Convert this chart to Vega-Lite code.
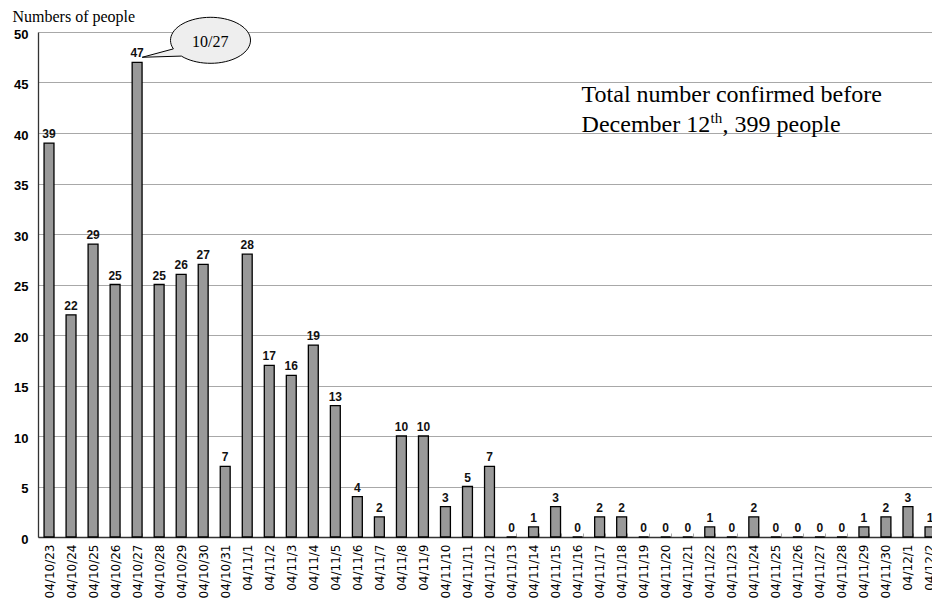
{
  "$schema": "https://vega.github.io/schema/vega-lite/v6.json",
  "autosize": {"type": "none"},
  "width": 894,
  "height": 505,
  "padding": {"left": 38, "top": 32, "right": 0, "bottom": 66},
  "background": "white",
  "config": {
    "view": {"stroke": null},
    "axis": {"labelFont": "Liberation Sans", "labelFontSize": 13, "labelColor": "black"}
  },
  "datasets": {
    "cases": [
      {"date": "04/10/23", "people": 39},
      {"date": "04/10/24", "people": 22},
      {"date": "04/10/25", "people": 29},
      {"date": "04/10/26", "people": 25},
      {"date": "04/10/27", "people": 47},
      {"date": "04/10/28", "people": 25},
      {"date": "04/10/29", "people": 26},
      {"date": "04/10/30", "people": 27},
      {"date": "04/10/31", "people": 7},
      {"date": "04/11/1", "people": 28},
      {"date": "04/11/2", "people": 17},
      {"date": "04/11/3", "people": 16},
      {"date": "04/11/4", "people": 19},
      {"date": "04/11/5", "people": 13},
      {"date": "04/11/6", "people": 4},
      {"date": "04/11/7", "people": 2},
      {"date": "04/11/8", "people": 10},
      {"date": "04/11/9", "people": 10},
      {"date": "04/11/10", "people": 3},
      {"date": "04/11/11", "people": 5},
      {"date": "04/11/12", "people": 7},
      {"date": "04/11/13", "people": 0},
      {"date": "04/11/14", "people": 1},
      {"date": "04/11/15", "people": 3},
      {"date": "04/11/16", "people": 0},
      {"date": "04/11/17", "people": 2},
      {"date": "04/11/18", "people": 2},
      {"date": "04/11/19", "people": 0},
      {"date": "04/11/20", "people": 0},
      {"date": "04/11/21", "people": 0},
      {"date": "04/11/22", "people": 1},
      {"date": "04/11/23", "people": 0},
      {"date": "04/11/24", "people": 2},
      {"date": "04/11/25", "people": 0},
      {"date": "04/11/26", "people": 0},
      {"date": "04/11/27", "people": 0},
      {"date": "04/11/28", "people": 0},
      {"date": "04/11/29", "people": 1},
      {"date": "04/11/30", "people": 2},
      {"date": "04/12/1", "people": 3},
      {"date": "04/12/2", "people": 1}
    ],
    "callout": [{"date": "04/10/30", "people": 49.2, "label": "10/27"}],
    "note1": [{"date": "04/11/16", "people": 43.1, "label": "Total number confirmed before"}],
    "note2a": [{"date": "04/11/16", "people": 40.1, "label": "December 12"}],
    "note2b": [{"date": "04/11/16", "people": 40.1, "label": "th"}],
    "note2c": [{"date": "04/11/16", "people": 40.1, "label": ", 399 people"}]
  },
  "layer": [
    {
      "data": {"name": "cases"},
      "mark": {"type": "bar", "fill": "#999999", "stroke": "black", "strokeWidth": 1.3},
      "encoding": {
        "x": {
          "field": "date", "type": "nominal", "sort": null,
          "scale": {"range": [0, 903], "paddingInner": 0.55, "paddingOuter": 0.275},
          "axis": {
            "title": null, "labelAngle": -90, "labelPadding": 11,
            "labelFont": "DejaVu Sans", "labelFontSize": 12,
            "tickBand": "extent", "tickSize": -4, "tickColor": "#aaaaaa",
            "domainColor": "#333333", "domainWidth": 1.3, "labelOverlap": false
          }
        },
        "y": {
          "field": "people", "type": "quantitative",
          "scale": {"domain": [0, 50], "nice": false},
          "axis": {
            "values": [0, 5, 10, 15, 20, 25, 30, 35, 40, 45, 50],
            "title": "Numbers of people", "titleAngle": 0, "titleAlign": "left",
            "titleBaseline": "alphabetic", "titleX": -26, "titleY": -11,
            "titleFont": "Liberation Serif", "titleFontSize": 16, "titleFontWeight": "normal", "titleColor": "black",
            "ticks": false, "labelPadding": 10, "labelOffset": 2, "labelFontWeight": "bold",
            "grid": true, "gridColor": "#a8a8a8", "gridWidth": 1,
            "domainColor": "#333333", "domainWidth": 1.3
          }
        }
      }
    },
    {
      "data": {"name": "cases"},
      "mark": {"type": "text", "baseline": "alphabetic", "dy": -5, "font": "Liberation Sans", "fontSize": 12, "fontWeight": "bold", "color": "#111111"},
      "encoding": {
        "x": {"field": "date", "type": "nominal", "sort": null},
        "y": {"field": "people", "type": "quantitative"},
        "text": {"field": "people", "type": "quantitative"}
      }
    },
    {
      "data": {"name": "callout"},
      "mark": {
        "type": "point", "filled": true, "fill": "#eeeeee", "fillOpacity": 1, "opacity": 1,
        "stroke": "black", "strokeWidth": 1, "size": 6400, "xOffset": 7,
        "shape": "M -0.92,0.22 L -1.7,0.43 L -0.72,0.4 A 1,0.575 0 1,0 -0.92,0.22 Z"
      },
      "encoding": {
        "x": {"field": "date", "type": "nominal", "sort": null},
        "y": {"field": "people", "type": "quantitative"}
      }
    },
    {
      "data": {"name": "callout"},
      "mark": {"type": "text", "dx": 7, "dy": 2, "baseline": "middle", "font": "Liberation Serif", "fontSize": 16, "color": "black"},
      "encoding": {
        "x": {"field": "date", "type": "nominal", "sort": null},
        "y": {"field": "people", "type": "quantitative"},
        "text": {"field": "label"}
      }
    },
    {
      "data": {"name": "note1"},
      "mark": {"type": "text", "align": "left", "baseline": "alphabetic", "dx": 4, "font": "Liberation Serif", "fontSize": 24, "color": "black"},
      "encoding": {
        "x": {"field": "date", "type": "nominal", "sort": null},
        "y": {"field": "people", "type": "quantitative"},
        "text": {"field": "label"}
      }
    },
    {
      "data": {"name": "note2a"},
      "mark": {"type": "text", "align": "left", "baseline": "alphabetic", "dx": 4, "font": "Liberation Serif", "fontSize": 24, "color": "black"},
      "encoding": {
        "x": {"field": "date", "type": "nominal", "sort": null},
        "y": {"field": "people", "type": "quantitative"},
        "text": {"field": "label"}
      }
    },
    {
      "data": {"name": "note2b"},
      "mark": {"type": "text", "align": "left", "baseline": "alphabetic", "dx": 133, "dy": -9, "font": "Liberation Serif", "fontSize": 15, "color": "black"},
      "encoding": {
        "x": {"field": "date", "type": "nominal", "sort": null},
        "y": {"field": "people", "type": "quantitative"},
        "text": {"field": "label"}
      }
    },
    {
      "data": {"name": "note2c"},
      "mark": {"type": "text", "align": "left", "baseline": "alphabetic", "dx": 145, "font": "Liberation Serif", "fontSize": 24, "color": "black"},
      "encoding": {
        "x": {"field": "date", "type": "nominal", "sort": null},
        "y": {"field": "people", "type": "quantitative"},
        "text": {"field": "label"}
      }
    }
  ]
}
